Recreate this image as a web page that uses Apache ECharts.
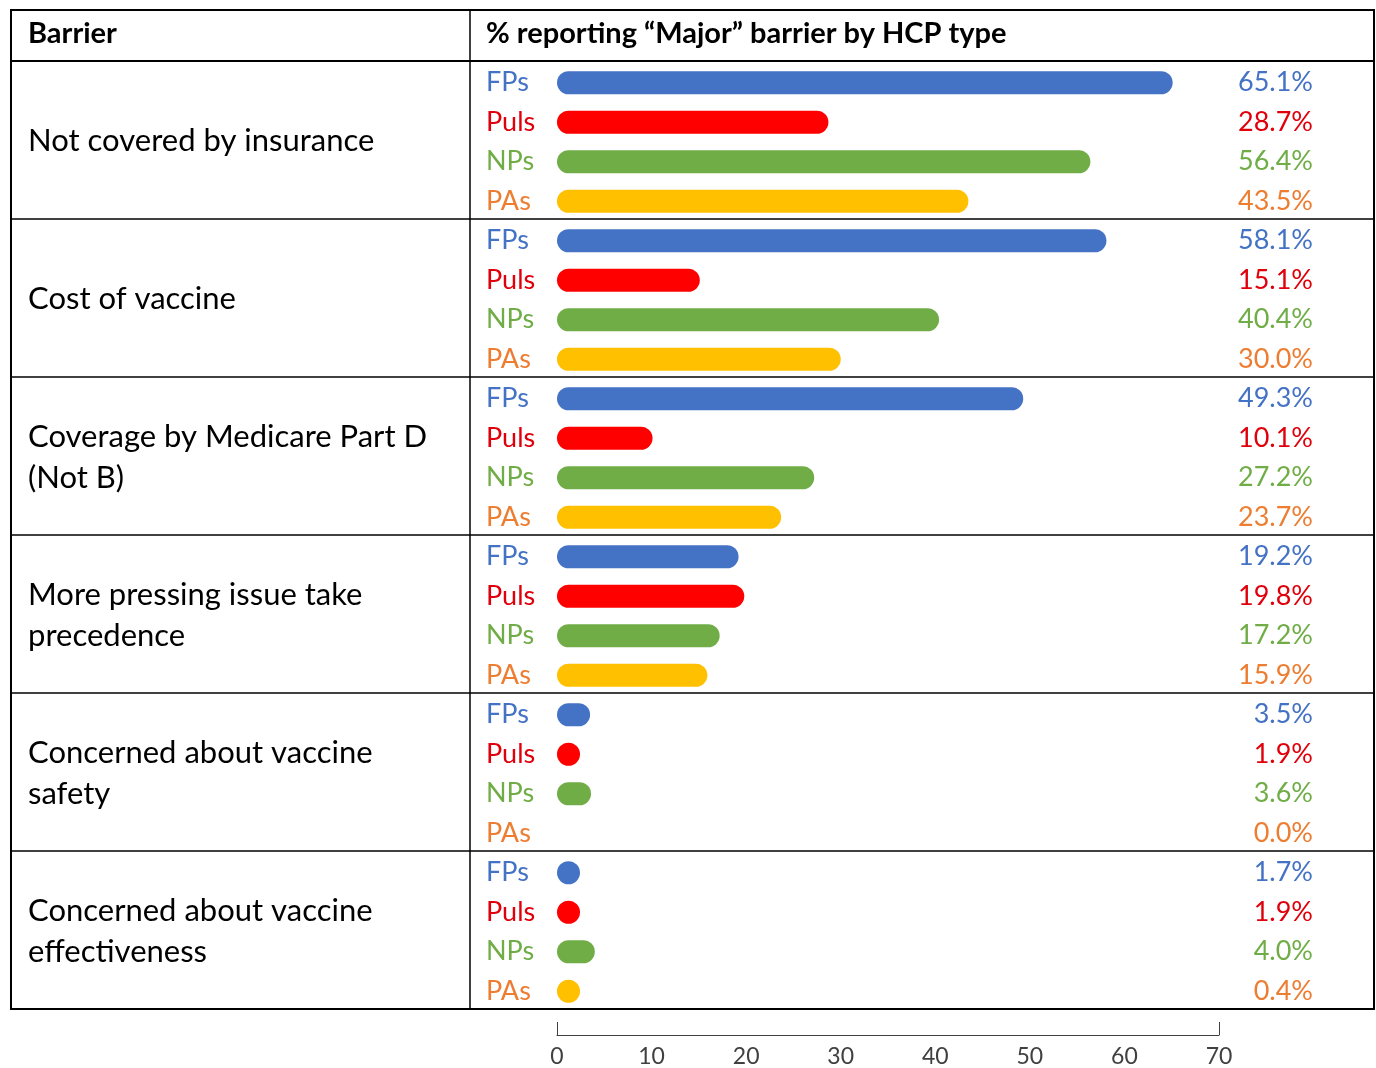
<!DOCTYPE html>
<html>
<head>
<meta charset="utf-8">
<script src="https://cdn.jsdelivr.net/npm/echarts@6/dist/echarts.min.js"></script>
<style>
  html, body { margin: 0; padding: 0; background: #fff; }
  #chart { width: 1376px; height: 1068px; }
</style>
</head>
<body>
<div id="chart"></div>
<script>
// ---- data ----
const barriers = [
  'Not covered by insurance',
  'Cost of vaccine',
  'Coverage by Medicare Part D\n(Not B)',
  'More pressing issue take\nprecedence',
  'Concerned about vaccine\nsafety',
  'Concerned about vaccine\neffectiveness'
];
const hcpTypes = ['FPs', 'Puls', 'NPs', 'PAs'];
const fps  = [65.1, 58.1, 49.3, 19.2, 3.5, 1.7];
const puls = [28.7, 15.1, 10.1, 19.8, 1.9, 1.9];
const nps  = [56.4, 40.4, 27.2, 17.2, 3.6, 4.0];
const pas  = [43.5, 30.0, 23.7, 15.9, 0.0, 0.4];
const axisMin = 0, axisMax = 70, axisStep = 10;
const headerLeft = 'Barrier';
const headerRight = '% reporting \u201CMajor\u201D barrier by HCP type';

// ---- styles ----
const barColors  = ['#4472C4', '#FF0000', '#70AD47', '#FFC000'];
const textColors = ['#4472C4', '#E0000B', '#70AD47', '#ED7D31'];
const FONT = 'Lato';

// ---- layout ----
const L = { left: 11, right: 1374, top: 10, header: 61, bottom: 1009, divider: 470,
            plotLeft: 557, plotRight: 1219 };
const groupH = (L.bottom - L.header) / barriers.length;

// ---- build flattened rows ----
const bySeries = [fps, puls, nps, pas];
const rowCats = [], rowVals = [];
barriers.forEach((b, g) => {
  hcpTypes.forEach((t, k) => { rowCats.push(t); rowVals.push(bySeries[k][g]); });
});
const rowLabels = rowVals.map(v => v.toFixed(1) + '%');

// ---- table rules ----
const graphics = [];
graphics.push({ type: 'rect', shape: { x: L.left, y: L.top, width: L.right - L.left, height: L.bottom - L.top },
  style: { fill: 'none', stroke: '#000', lineWidth: 2 }, z: 10 });
graphics.push({ type: 'line', shape: { x1: L.left, y1: L.header, x2: L.right, y2: L.header },
  style: { stroke: '#000', lineWidth: 2 }, z: 10 });
graphics.push({ type: 'line', shape: { x1: L.divider, y1: L.top, x2: L.divider, y2: L.bottom },
  style: { stroke: '#000', lineWidth: 1.5 }, z: 10 });
for (let k = 1; k < barriers.length; k++) {
  const y = Math.round(L.header + groupH * k);
  graphics.push({ type: 'line', shape: { x1: L.left, y1: y, x2: L.right, y2: y },
    style: { stroke: '#000', lineWidth: 1.6 }, z: 10 });
}
graphics.push({ type: 'text', x: 28, y: (L.top + L.header) / 2 - 2,
  style: { text: headerLeft, font: 'bold 29px ' + FONT, fill: '#000', verticalAlign: 'middle' } });
graphics.push({ type: 'text', x: 486, y: (L.top + L.header) / 2 - 2,
  style: { text: headerRight, font: 'bold 29px ' + FONT, fill: '#000', verticalAlign: 'middle' } });

const chart = echarts.init(document.getElementById('chart'));
chart.setOption({
  backgroundColor: '#fff',
  animation: false,
  textStyle: { fontFamily: FONT },
  graphic: graphics,
  grid: [
    { left: L.plotLeft, width: L.plotRight - L.plotLeft, top: L.header + 2, height: L.bottom - L.header },
    { left: L.left, width: L.divider - L.left, top: L.header + 1, height: L.bottom - L.header }
  ],
  xAxis: [
    { gridIndex: 0, type: 'value', min: axisMin, max: axisMax, interval: axisStep,
      position: 'bottom', offset: 24,
      axisLine: { show: true, lineStyle: { color: '#404040', width: 1 } },
      axisTick: { show: true, inside: true, length: 13, customValues: [axisMin, axisMax],
                  lineStyle: { color: '#404040', width: 1 } },
      axisLabel: { fontSize: 23, color: '#404040', margin: 10, fontFamily: FONT },
      splitLine: { show: false } },
    { gridIndex: 1, type: 'value', min: 0, max: 1, show: false }
  ],
  yAxis: [
    { gridIndex: 0, type: 'category', data: rowCats, inverse: true,
      axisLine: { show: false }, axisTick: { show: false }, splitLine: { show: false },
      axisLabel: { align: 'left', margin: L.plotLeft - 486, fontSize: 27, fontFamily: FONT,
                   color: (v, i) => textColors[i % 4] } },
    { gridIndex: 0, type: 'category', data: rowLabels, inverse: true, position: 'right',
      axisLine: { show: false }, axisTick: { show: false }, splitLine: { show: false },
      axisLabel: { align: 'right', margin: 1313 - L.plotRight, fontSize: 27, fontFamily: FONT,
                   color: (v, i) => textColors[i % 4] } },
    { gridIndex: 1, type: 'category', data: barriers, inverse: true,
      axisLine: { show: false }, axisTick: { show: false }, splitLine: { show: false },
      axisLabel: { inside: true, align: 'left', margin: 17, fontSize: 31, lineHeight: 41,
                   color: '#000', fontFamily: FONT } }
  ],
  series: [{
    type: 'bar', xAxisIndex: 0, yAxisIndex: 0, data: rowVals,
    barWidth: 23, barMinHeight: 23,
    itemStyle: { borderRadius: 11.5,
                 color: p => p.value === 0 ? 'rgba(0,0,0,0)' : barColors[p.dataIndex % 4] }
  }]
});
</script>
</body>
</html>
